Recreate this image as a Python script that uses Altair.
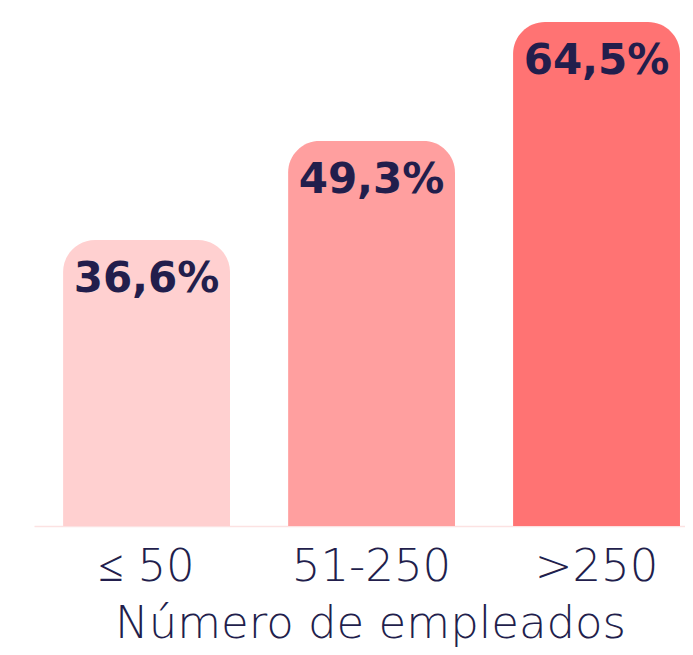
import altair as alt
import pandas as pd

categories = ["≤ 50", "51-250", ">250"]
values = [36.6, 49.3, 64.5]
labels = ["36,6%", "49,3%", "64,5%"]
colors = ["#FFD0D0", "#FF9F9F", "#FF7373"]

TEXT = "#221E4C"

df = pd.DataFrame({"cat": categories, "val": values, "label": labels})

x = alt.X(
    "cat:N",
    sort=categories,
    scale=alt.Scale(paddingInner=0.258, paddingOuter=0.0757, align=0.853),
    axis=alt.Axis(
        title="Número de empleados",
        domain=True,
        domainColor="#FCE2E2",
        domainWidth=1.5,
        ticks=False,
        tickSize=0,
        grid=False,
        labelAngle=0,
        labelFont="DejaVu Sans",
        labelFontWeight=200,
        labelFontSize=45,
        labelColor=TEXT,
        labelPadding=54,
        labelBaseline="alphabetic",
        titleFont="DejaVu Sans",
        titleFontWeight=200,
        titleFontSize=45,
        titleColor=TEXT,
        titleBaseline="alphabetic",
        titleX=336,
        titleY=111,
    ),
)
y = alt.Y("val:Q", scale=alt.Scale(domain=[0, 64.5], nice=False, zero=True), axis=None)

bars = alt.Chart(df).mark_bar(cornerRadiusTopLeft=32, cornerRadiusTopRight=32).encode(
    x=x,
    y=y,
    color=alt.Color("cat:N", scale=alt.Scale(domain=categories, range=colors), legend=None),
)

text = alt.Chart(df).mark_text(
    baseline="alphabetic",
    dy=52,
    font="DejaVu Sans",
    fontWeight="bold",
    fontSize=42,
    color=TEXT,
).encode(x=alt.X("cat:N", sort=categories), y=alt.Y("val:Q"), text="label:N")

chart = (
    alt.layer(bars, text)
    .properties(
        width=651,
        height=504,
        padding={"left": 26, "top": 14, "right": 0, "bottom": 121},
        autosize=alt.AutoSizeParams(type="none"),
    )
    .configure_view(stroke=None)
)

chart.save("out.html", embed_options={"renderer": "svg", "actions": False})
